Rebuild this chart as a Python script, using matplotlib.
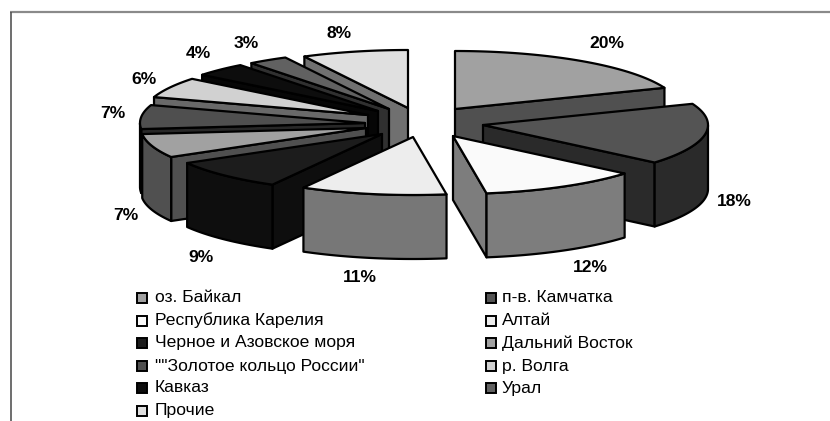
import numpy as np
import matplotlib
matplotlib.use('Agg')
import matplotlib.pyplot as plt
from matplotlib.patches import Polygon, Rectangle

plt.rcParams['font.family'] = ['Liberation Sans', 'DejaVu Sans']

categories = ['оз. Байкал', 'п-в. Камчатка', 'Республика Карелия', 'Алтай',
              'Черное и Азовское моря', 'Дальний Восток', '""Золотое кольцо России"',
              'р. Волга', 'Кавказ', 'Урал', 'Прочие']
values = [20, 18, 12, 11, 9, 7, 7, 6, 4, 3, 8]
greys = [0.63, 0.33, 0.98, 0.93, 0.11, 0.63, 0.31, 0.82, 0.05, 0.38, 0.88]

# where each exploded wedge sits, in pixels, and what gets painted first
apex_x = [455, 483, 453, 413, 382, 366, 365, 368, 378, 389, 408]
apex_y = [109, 125, 136, 137, 134, 128, 123, 115, 111, 109, 108]
paint_order = [0, 10, 9, 8, 7, 6, 5, 4, 1, 2, 3]

rx, ry, depth = 225, 58, 64

label_x = [607, 734, 590, 360, 201, 126, 113, 144, 198, 246, 339]
label_y = [44, 201, 268, 278, 257, 215, 114, 79, 53, 44, 34]

fig = plt.figure(figsize=(8.30, 4.21), dpi=100)
ax = fig.add_axes([0, 0, 1, 1])
ax.set_xlim(0, 830)
ax.set_ylim(421, 0)
ax.axis('off')

# picture frame, only the top and left show
ax.plot([10, 830], [12, 12], color='#8a8a8a', lw=1.6, solid_capstyle='butt')
ax.plot([10.5, 10.5], [12, 421], color='#555555', lw=1.2, solid_capstyle='butt')

angles = np.cumsum([0] + values) / sum(values) * 2 * np.pi


def poly(pts, grey, z):
    ax.add_patch(Polygon(pts, closed=True, facecolor=str(grey), edgecolor='black',
                         lw=1.6, joinstyle='round', zorder=z))


for n, i in enumerate(paint_order):
    a0, a1 = angles[i], angles[i + 1]
    cx, cy = apex_x[i], apex_y[i]
    t = np.linspace(a0, a1, 60)
    x = cx + rx * np.sin(t)
    y = cy - ry * np.cos(t)
    top = np.column_stack([x, y])
    side = greys[i] / 2
    z = 2 + n * 0.1

    # cut walls facing the viewer
    if np.sin(a1) > 1e-6:
        poly([(cx, cy), top[-1], top[-1] + (0, depth), (cx, cy + depth)], side, z)
    if np.sin(a0) < -1e-6:
        poly([(cx, cy), top[0], top[0] + (0, depth), (cx, cy + depth)], side, z)

    # rim, only the front half of the ellipse
    front = (t >= np.pi / 2) & (t <= 3 * np.pi / 2)
    if front.sum() > 1:
        rim = top[front]
        poly(np.vstack([rim, rim[::-1] + (0, depth)]), side, z)

    poly(np.vstack([[cx, cy], top]), greys[i], z)

for i in range(len(values)):
    ax.text(label_x[i], label_y[i], '%d%%' % values[i], fontsize=12.6, fontweight='bold',
            ha='center', va='center', zorder=5)

# legend, two columns filled row by row
legend_col = [142, 491]
legend_row = [298, 320.5, 343, 366, 388, 411]
for i, name in enumerate(categories):
    lx = legend_col[i % 2]
    ly = legend_row[i // 2]
    ax.add_patch(Rectangle((lx - 5, ly - 5), 10, 10, facecolor=str(greys[i]),
                           edgecolor='black', lw=1.4, zorder=5))
    ax.text(lx + (13 if i % 2 == 0 else 11), ly, name, fontsize=12.6, ha='left', va='center', zorder=5)

fig.savefig('out.png', dpi=100)
